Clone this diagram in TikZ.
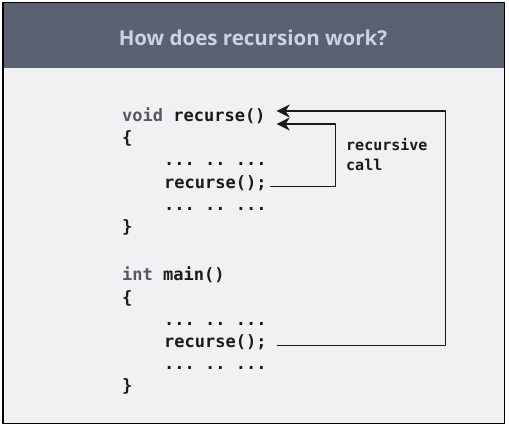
\documentclass[tikz,border=0pt]{standalone}
\usepackage{fontspec}
\setmainfont{Open Sans}
\setmonofont{DejaVu Sans Mono}
\usetikzlibrary{arrows.meta}
\definecolor{headgray}{HTML}{5A6271}
\definecolor{titletext}{HTML}{CDD2E4}
\definecolor{bodygray}{HTML}{F1F0F3}
\definecolor{codeblack}{HTML}{1A1A1A}
\definecolor{kwgray}{HTML}{55595F}
\newcommand\kw[1]{\textcolor{kwgray}{#1}}
\begin{document}
\begin{tikzpicture}[x=1pt,y=-1pt,line join=round,>={Stealth[length=13pt,width=13pt,inset=4pt]},
  code/.style={anchor=base west,inner sep=0pt,text=codeblack,font=\fontsize{17}{20}\selectfont\ttfamily\bfseries},
  note/.style={anchor=north west,inner sep=0pt,align=left,text=codeblack,font=\fontsize{15}{20}\selectfont\ttfamily\bfseries},
  title/.style={anchor=base,inner sep=0pt,text=titletext,font=\fontsize{20.5}{24}\selectfont\bfseries},
  conn/.style={draw=codeblack,line width=1.3pt}]
  \useasboundingbox (0,0) rectangle (509,427);
  \fill[white] (0,0) rectangle (509,427);
  % panel
  \fill[bodygray] (3,68) rectangle (504,423);
  \fill[headgray] (3,3) rectangle (504,68);
  \draw[black,line width=1.5pt] (3,2.5) rectangle (504.5,423.5);
  \node[title] (ttl) at (253,46) {How does recursion work?};
  % function
  \node[code] (sig) at (122,122) {\kw{void} recurse()};
  \node[code] (ob1) at (122,144) {\{};
  \node[code] (dA) at (164,166) {... .. ...};
  \node[code] (rec) at (164,189) {recurse();};
  \node[code] (dB) at (164,211) {... .. ...};
  \node[code] (cb1) at (122,233) {\}};
  % main
  \node[code] (msig) at (122,281) {\kw{int} main()};
  \node[code] (ob2) at (122,304) {\{};
  \node[code] (dC) at (164,326) {... .. ...};
  \node[code] (call) at (164,348) {recurse();};
  \node[code] (dD) at (164,370) {... .. ...};
  \node[code] (cb2) at (122,392) {\}};
  \node[note] (lbl) at (346,138.5) {recursive\\call};
  % arrows
  \coordinate (outerIn) at ([xshift=11pt,yshift=11pt]sig.base east);
  \coordinate (innerIn) at ([xshift=11pt,yshift=-2pt]sig.base east);
  \draw[conn,->] ([xshift=3pt]rec.mid east) -- ++(66,0) |- (innerIn);
  \draw[conn,->] ([xshift=10pt]call.mid east) -- ++(169,0) |- (outerIn);
\end{tikzpicture}
\end{document}
